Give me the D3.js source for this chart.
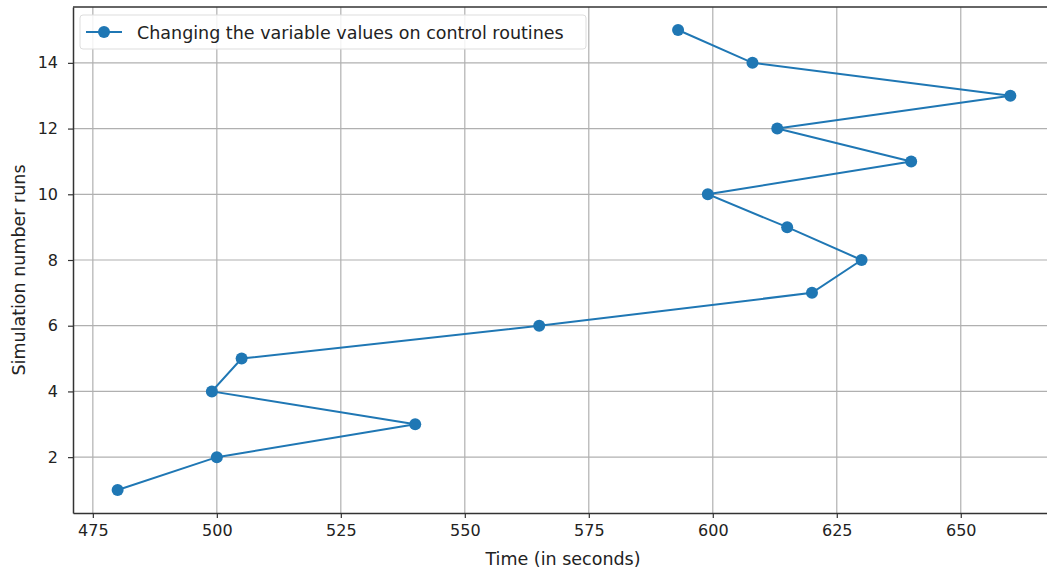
<!DOCTYPE html>
<html><head><meta charset="utf-8">
<script src="https://cdn.jsdelivr.net/npm/d3@7"></script>
<style>body{margin:0;background:#fff;overflow:hidden}svg{display:block;font-family:"DejaVu Sans",sans-serif}</style>
</head><body><svg id="c" width="1047" height="571"></svg>
<script>
const runs = [1,2,3,4,5,6,7,8,9,10,11,12,13,14,15];
const times = [480,500,540,499,505,565,620,630,615,599,640,613,660,608,593];
const xTicks = [475,500,525,550,575,600,625,650];
const yTicks = [2,4,6,8,10,12,14];
const seriesName = "Changing the variable values on control routines";
const xLabel = "Time (in seconds)";
const yLabel = "Simulation number runs";

const svg = d3.select("#c");
const L = 73, R = 1055, T = 7, B = 513;
const x = d3.scaleLinear().domain([471,669]).range([L,R]);
const y = d3.scaleLinear().domain([0.3,15.7]).range([B,T]);
const color = "#1f77b4";

// grid
svg.append("g").selectAll("line").data(xTicks).join("line")
  .attr("x1",d=>x(d)).attr("x2",d=>x(d)).attr("y1",T).attr("y2",B)
  .attr("stroke","#b0b0b0").attr("stroke-width",1.2);
svg.append("g").selectAll("line").data(yTicks).join("line")
  .attr("y1",d=>y(d)).attr("y2",d=>y(d)).attr("x1",L).attr("x2",R)
  .attr("stroke","#b0b0b0").attr("stroke-width",1.2);

// axes
const xa = svg.append("g").attr("transform",`translate(0,${B})`)
  .call(d3.axisBottom(x).tickValues(xTicks).tickSize(5).tickPadding(7).tickSizeOuter(0));
const ya = svg.append("g").attr("transform",`translate(${L},0)`)
  .call(d3.axisLeft(y).tickValues(yTicks).tickSize(5).tickPadding(10).tickSizeOuter(0));
[xa,ya].forEach(a=>{
  a.selectAll("text").attr("font-size",16).attr("fill","#222").attr("font-family","DejaVu Sans");
  a.selectAll("line").attr("stroke","#333").attr("stroke-width",1.2);
  a.select(".domain").attr("stroke","#333").attr("stroke-width",1.5);
});
// top spine
svg.append("line").attr("x1",L).attr("x2",R).attr("y1",T).attr("y2",T).attr("stroke","#333").attr("stroke-width",1.5);

// labels
svg.append("text").attr("x",563).attr("y",565).attr("text-anchor","middle")
  .attr("font-size",17.5).attr("fill","#222").text(xLabel);
svg.append("text").attr("transform",`translate(25,${(T+B)/2 + 10}) rotate(-90)`).attr("text-anchor","middle")
  .attr("font-size",17.5).attr("fill","#222").text(yLabel);

// line + markers
const pts = runs.map((r,i)=>({r,t:times[i]}));
svg.append("path").datum(pts)
  .attr("d",d3.line().x(d=>x(d.t)).y(d=>y(d.r)))
  .attr("fill","none").attr("stroke",color).attr("stroke-width",2);
svg.append("g").selectAll("circle").data(pts).join("circle")
  .attr("cx",d=>x(d.t)).attr("cy",d=>y(d.r)).attr("r",6).attr("fill",color);

// legend
const lg = svg.append("g");
lg.append("rect").attr("x",80).attr("y",15).attr("width",506).attr("height",34).attr("rx",3)
  .attr("fill","#fff").attr("fill-opacity",0.85).attr("stroke","#ddd");
lg.append("line").attr("x1",86).attr("x2",122).attr("y1",32).attr("y2",32).attr("stroke",color).attr("stroke-width",2);
lg.append("circle").attr("cx",104).attr("cy",32).attr("r",6).attr("fill",color);
lg.append("text").attr("x",137).attr("y",39).attr("font-size",17.5).attr("fill","#222").text(seriesName);
</script></body></html>
